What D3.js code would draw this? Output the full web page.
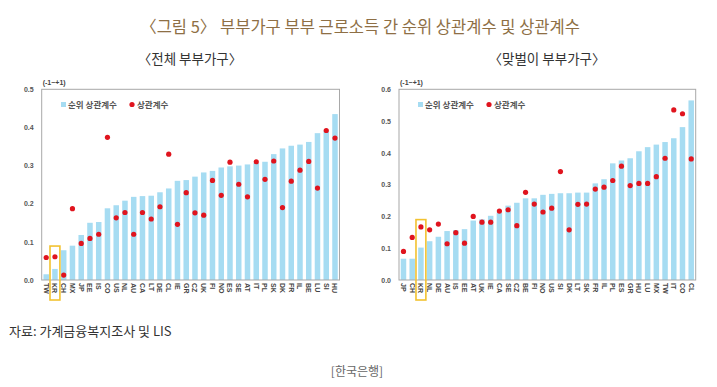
<!DOCTYPE html>
<html>
<head>
<meta charset="utf-8">
<script src="https://cdn.jsdelivr.net/npm/d3@7"></script>
<style>
body { margin: 0; background: #fff; }
svg text { font-family: "Noto Sans CJK KR", "Noto Sans", sans-serif; }
</style>
</head>
<body>
<svg id="fig" width="717" height="387"></svg>
<script>
// 전체 부부가구
const allCountries = ["TW","KR","CH","MX","JP","EE","IS","CO","US","NL","AU","CA","LT","DE","CL",
  "IE","GR","CZ","UK","FI","NO","ES","SE","AT","IT","PL","SK","DK","FR","IL","BE","LU","SI","HU"];
const allRank = [0.015,0.029,0.078,0.09,0.118,0.15,0.152,0.188,0.196,0.208,0.218,0.22,0.221,0.23,0.24,
  0.26,0.262,0.271,0.282,0.286,0.295,0.298,0.30,0.303,0.307,0.31,0.33,0.345,0.352,0.355,0.362,0.385,0.39,0.435];
const allCorr = [0.059,0.061,0.013,0.187,0.096,0.109,0.12,0.374,0.163,0.177,0.12,0.177,0.16,0.192,0.33,
  0.146,0.229,0.176,0.17,0.261,0.222,0.309,0.251,0.218,0.31,0.264,0.312,0.19,0.259,0.288,0.311,0.241,0.392,0.372];

// 맞벌이 부부가구
const dualCountries = ["JP","CH","KR","NL","DE","AU","IS","EE","AT","UK","IE","CA","SE","CZ","BE","FI",
  "NO","US","SI","DK","LT","SK","FR","IL","PL","ES","GR","HU","LU","MX","TW","IT","CO","CL"];
const dualRank = [0.067,0.067,0.102,0.122,0.136,0.154,0.157,0.16,0.187,0.191,0.202,0.212,0.234,0.243,0.257,0.257,
  0.268,0.271,0.273,0.273,0.275,0.275,0.304,0.317,0.367,0.376,0.383,0.405,0.418,0.426,0.434,0.446,0.481,0.565];
const dualCorr = [0.09,0.134,0.167,0.158,0.176,0.114,0.149,0.116,0.2,0.182,0.182,0.217,0.221,0.171,0.276,0.239,
  0.214,0.226,0.341,0.158,0.238,0.239,0.286,0.292,0.313,0.358,0.297,0.304,0.304,0.325,0.383,0.535,0.523,0.381];

const leftTicks = [0, 0.1, 0.2, 0.3, 0.4, 0.5];
const rightTicks = [0, 0.1, 0.2, 0.3, 0.4, 0.5, 0.6];

const barColor = "#a6dcf2";
const dotColor = "#e0141e";
const Fig = d3.select("#fig");

function panel(countries, rank, corr, ticks, yMax, x0, x1, legendX, boxTop) {
  const top = 89.3, bottom = 280;
  const x = d3.scaleBand().domain(countries).range([x0, x1]).paddingInner(0.37).paddingOuter(0.2);
  const y = d3.scaleLinear().domain([0, yMax]).range([bottom, top]);
  const g = Fig.append("g");

  g.selectAll(".bar")
    .data(countries)
    .join("rect")
    .attr("x", d => x(d))
    .attr("width", x.bandwidth())
    .attr("y", (d, i) => y(rank[i]))
    .attr("height", (d, i) => bottom - y(rank[i]))
    .attr("fill", barColor);

  g.selectAll(".dot")
    .data(countries)
    .join("circle")
    .attr("cx", d => x(d) + x.bandwidth() / 2)
    .attr("cy", (d, i) => y(corr[i]))
    .attr("r", 2.6)
    .attr("fill", dotColor);

  // frame
  g.append("rect")
    .attr("x", x0).attr("y", top)
    .attr("width", x1 - x0).attr("height", bottom - top)
    .attr("fill", "none").attr("stroke", "#a8a8a8").attr("stroke-width", 1);

  // y ticks
  const yAxis = d3.axisLeft(y).tickValues(ticks).tickFormat(d3.format(".1f")).tickSize(0).tickPadding(8);
  const ax = g.append("g").attr("transform", `translate(${x0},0)`).call(yAxis);
  ax.select(".domain").remove();
  ax.selectAll("text")
    .style("font-size", "7px").style("font-weight", "bold").attr("fill", "#555")
    .style("font-family", "Arial, 'Liberation Sans', sans-serif");

  g.append("text")
    .attr("x", x0 + 1).attr("y", top - 4)
    .style("font-size", "7px").style("font-weight", "bold").attr("fill", "#444")
    .style("font-family", "Arial, 'Liberation Sans', sans-serif")
    .text("(-1~+1)");

  // x labels (rotated)
  g.selectAll(".xl")
    .data(countries)
    .join("text")
    .attr("transform", d => `translate(${x(d) + x.bandwidth() / 2 - 2.5},${bottom + 3}) rotate(90)`)
    .style("font-size", "7px").style("font-weight", "bold").attr("fill", "#444")
    .style("font-family", "Arial, 'Liberation Sans', sans-serif")
    .text(d => d);

  // KR highlight box
  const kx = x("KR");
  const kTop = y(boxTop);
  g.append("rect")
    .attr("x", kx - 2.2).attr("y", kTop)
    .attr("width", x.bandwidth() + 4.4).attr("height", 300 - kTop)
    .attr("fill", "none").attr("stroke", "#f2c230").attr("stroke-width", 1.6);

  // legend
  const lg = g.append("g").attr("transform", `translate(${legendX},104.5)`);
  lg.append("rect").attr("x", 0).attr("y", -2.5).attr("width", 5).attr("height", 5).attr("fill", barColor);
  lg.append("text").attr("x", 7).attr("y", 3)
    .style("font-size", "8.5px").style("font-weight", "bold").attr("fill", "#555")
    .text("순위 상관계수");
  lg.append("circle").attr("cx", 71).attr("cy", 0).attr("r", 2.6).attr("fill", dotColor);
  lg.append("text").attr("x", 76).attr("y", 3)
    .style("font-size", "8.5px").style("font-weight", "bold").attr("fill", "#555")
    .text("상관계수");
}

panel(allCountries, allRank, allCorr, leftTicks, 0.5, 41.7, 339.5, 61, 0.089);
panel(dualCountries, dualRank, dualCorr, rightTicks, 0.6, 399, 695.7, 418, 0.19);

// titles
Fig.append("text")
  .attr("x", 360).attr("y", 33).attr("text-anchor", "middle")
  .style("font-size", "16.5px").attr("fill", "#8e6f45")
  .text("〈그림 5〉 부부가구 부부 근로소득 간 순위 상관계수 및 상관계수");

Fig.append("text")
  .attr("x", 190).attr("y", 64).attr("text-anchor", "middle")
  .style("font-size", "13.5px").attr("fill", "#333")
  .text("〈전체 부부가구〉");

Fig.append("text")
  .attr("x", 547).attr("y", 64).attr("text-anchor", "middle")
  .style("font-size", "13.5px").attr("fill", "#333")
  .text("〈맞벌이 부부가구〉");

Fig.append("text")
  .attr("x", 9).attr("y", 336)
  .style("font-size", "13px").attr("fill", "#333")
  .text("자료:  가계금융복지조사 및 LIS");

Fig.append("text")
  .attr("x", 357).attr("y", 376).attr("text-anchor", "middle")
  .style("font-size", "12px").attr("fill", "#666")
  .text("[한국은행]");
</script>
</body>
</html>
